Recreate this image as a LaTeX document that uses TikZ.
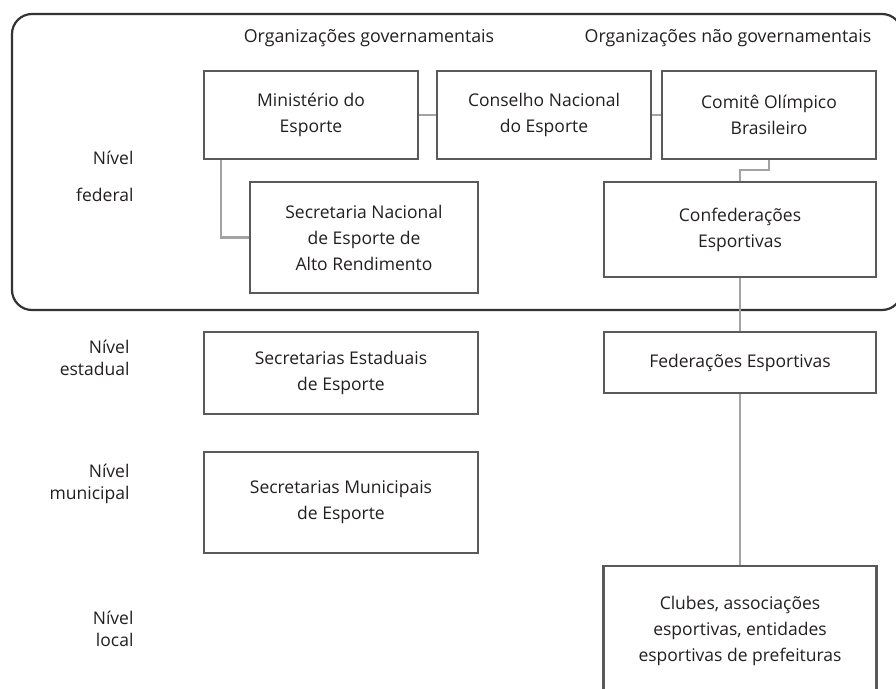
\documentclass[tikz,border=0pt]{standalone}
\usepackage{fontspec}
\setmainfont{Open Sans}
\usepackage{xcolor}
\usetikzlibrary{positioning,calc}

\definecolor{boxgray}{HTML}{5A5A5A}
\definecolor{linegray}{HTML}{A3A3A3}
\definecolor{inkgray}{HTML}{231F20}

\begin{document}
\begin{tikzpicture}[
  x=1pt, y=-1pt,
  org/.style={draw=boxgray, line width=2.6pt, align=center, text=inkgray,
              font=\fontsize{17.5}{26}\selectfont, inner sep=0pt},
  lvl/.style={align=right, anchor=east, text=inkgray, font=\fontsize{17.5}{22}\selectfont},
  head/.style={text=inkgray, font=\fontsize{17.8}{20}\selectfont},
  link/.style={draw=linegray, line width=2.2pt},
  frame/.style={draw=black!80, line width=2.2pt, rounded corners=20pt}]
\useasboundingbox (0,0) rectangle (896,688);
% federal level frame
\draw[frame] (12,14) rectangle (902,310);
\node[head] (gov) at (369,38) {Organizações governamentais};
\node[head] (ngov) at (728,38) {Organizações não governamentais};
% levels
\node[lvl] (lfed) at (137,176) {Nível\\[15pt]federal};
\node[lvl] (lest) at (133,358) {Nível\\estadual};
\node[lvl] (lmun) at (133,484) {Nível\\municipal};
\node[lvl] (lloc) at (137,629) {Nível\\local};
% organizations
\node[org, minimum width=214pt, minimum height=88pt] (min) at (311,115) {Ministério do\\Esporte};
\node[org, minimum width=214pt, minimum height=88pt] (cne) at (544,115) {Conselho Nacional\\do Esporte};
\node[org, minimum width=214pt, minimum height=88pt] (cob) at (769,115) {Comitê Olímpico\\Brasileiro};
\node[org, minimum width=228pt, minimum height=111pt] (snear) at (364,237.5) {Secretaria Nacional\\de Esporte de\\Alto Rendimento};
\node[org, minimum width=272pt, minimum height=95pt] (conf) at (740,229.5) {Confederações\\Esportivas};
\node[org, minimum width=274pt, minimum height=82pt] (see) at (341,373) {Secretarias Estaduais\\de Esporte};
\node[org, minimum width=272pt, minimum height=61pt] (fed) at (740,362.5) {Federações Esportivas};
\node[org, minimum width=274pt, minimum height=101pt] (sme) at (341,502.5) {Secretarias Municipais\\de Esporte};
\node[org, minimum width=273pt, minimum height=130pt] (clu) at (740,631) {Clubes, associações\\esportivas, entidades\\esportivas de prefeituras};
% links
\draw[link] (min) -- (cne);
\draw[link] (cne) -- (cob);
\draw[link] ($(min.south west)+(18,0)$) |- (snear.west);
\draw[link] (cob.south) -- ++(0,10) -| (conf.north);
\draw[link] (conf) -- (fed);
\draw[link] (fed) -- (clu);
\end{tikzpicture}
\end{document}
